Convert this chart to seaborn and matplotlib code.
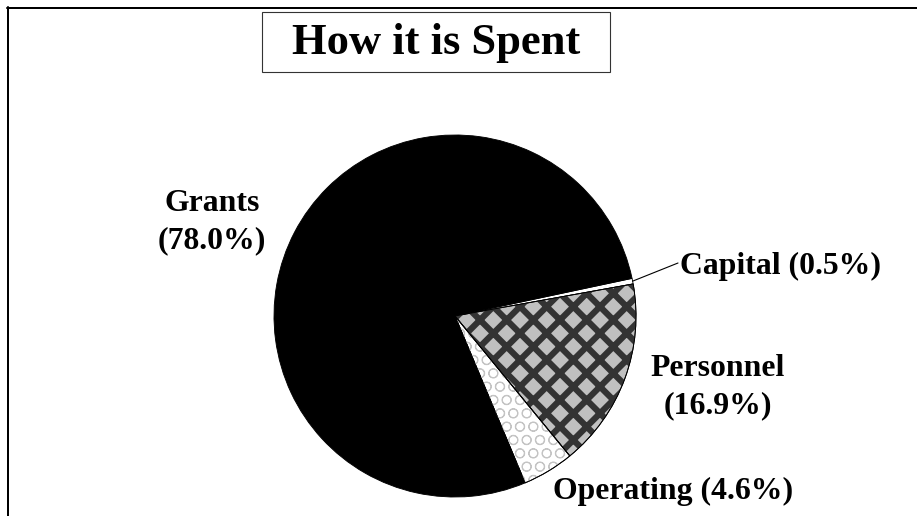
import matplotlib
matplotlib.use("Agg")
import matplotlib.pyplot as plt
import seaborn as sns
import numpy as np
from matplotlib.patches import Wedge, Rectangle
from matplotlib.lines import Line2D

# ---- data ----
categories = ["Capital", "Personnel", "Operating", "Grants"]
shares = [0.5, 16.9, 4.6, 78.0]
title_text = "How it is Spent"

sns.set_theme(style="white")
plt.rcParams["font.family"] = ["Liberation Serif", "DejaVu Serif"]
plt.rcParams["text.color"] = "black"

DPI = 80
W, H = 917, 516
fig = plt.figure(figsize=(W / DPI, H / DPI), dpi=DPI)
fig.patch.set_facecolor("white")
ax = fig.add_axes([0, 0, 1, 1])

CX, CY, R = 455, 316, 181   # pixel coords (y downwards)
START = 12

face = {"Capital": "white", "Personnel": "#c0c0c0", "Operating": "white", "Grants": "black"}
wedges, _ = ax.pie(shares, colors=[face[c] for c in categories], startangle=START,
                   counterclock=False, center=(CX, H - CY), radius=R,
                   wedgeprops=dict(edgecolor="black", linewidth=0.8))
ax.set_aspect("auto")
ax.set_xlim(0, W)
ax.set_ylim(0, H)
ax.axis("off")

hatch_spec = {"Personnel": ("x", "#333333", 5.6), "Operating": ("O", "#c4c4c4", 0.9)}
for w, c in zip(wedges, categories):
    if c in hatch_spec:
        h, col, lw = hatch_spec[c]
        with plt.rc_context({"hatch.linewidth": lw}):
            ov = Wedge(w.center, w.r, w.theta1, w.theta2, facecolor="none",
                       edgecolor=col, hatch=h, linewidth=0, zorder=w.get_zorder() + 0.1)
            if hasattr(ov, "set_hatch_linewidth"):
                ov.set_hatch_linewidth(lw)
        ax.add_patch(ov)
        outline = Wedge(w.center, w.r, w.theta1, w.theta2, facecolor="none",
                        edgecolor="black", linewidth=0.8, zorder=w.get_zorder() + 0.2)
        ax.add_patch(outline)

def py(y):
    return H - y

fs = 28.6
lab = {c: f"{c} ({v:.1f}%)" for c, v in zip(categories, shares)}
ax.text(212, py(222), lab["Grants"].replace(" (", "\n("), ha="center", va="center",
        fontsize=fs, fontweight="bold", linespacing=1.4)
ax.text(718, py(387), lab["Personnel"].replace(" (", "\n("), ha="center", va="center",
        fontsize=fs, fontweight="bold", linespacing=1.4)
ax.text(680, py(266), lab["Capital"], ha="left", va="center", fontsize=fs, fontweight="bold")
ax.text(553, py(491), lab["Operating"], ha="left", va="center", fontsize=fs, fontweight="bold")

# leader line for Capital
cw = wedges[0]
mid = np.deg2rad((cw.theta1 + cw.theta2) / 2)
x0 = cw.center[0] + cw.r * np.cos(mid)
y0 = cw.center[1] + cw.r * np.sin(mid)
ax.add_line(Line2D([x0, 678], [y0, py(263)], color="black", linewidth=1.0))

# title box
ax.add_patch(Rectangle((262, py(72)), 348, 60, facecolor="white", edgecolor="#333333", linewidth=1.0))
ax.text(436, py(43), title_text, ha="center", va="center", fontsize=40, fontweight="bold")

# outer frame (top and left edges)
ax.add_line(Line2D([7, W], [py(8), py(8)], color="black", linewidth=1.8))
ax.add_line(Line2D([8, 8], [py(7), 0], color="black", linewidth=1.8))

fig.savefig("out.png", dpi=DPI, facecolor="white")
